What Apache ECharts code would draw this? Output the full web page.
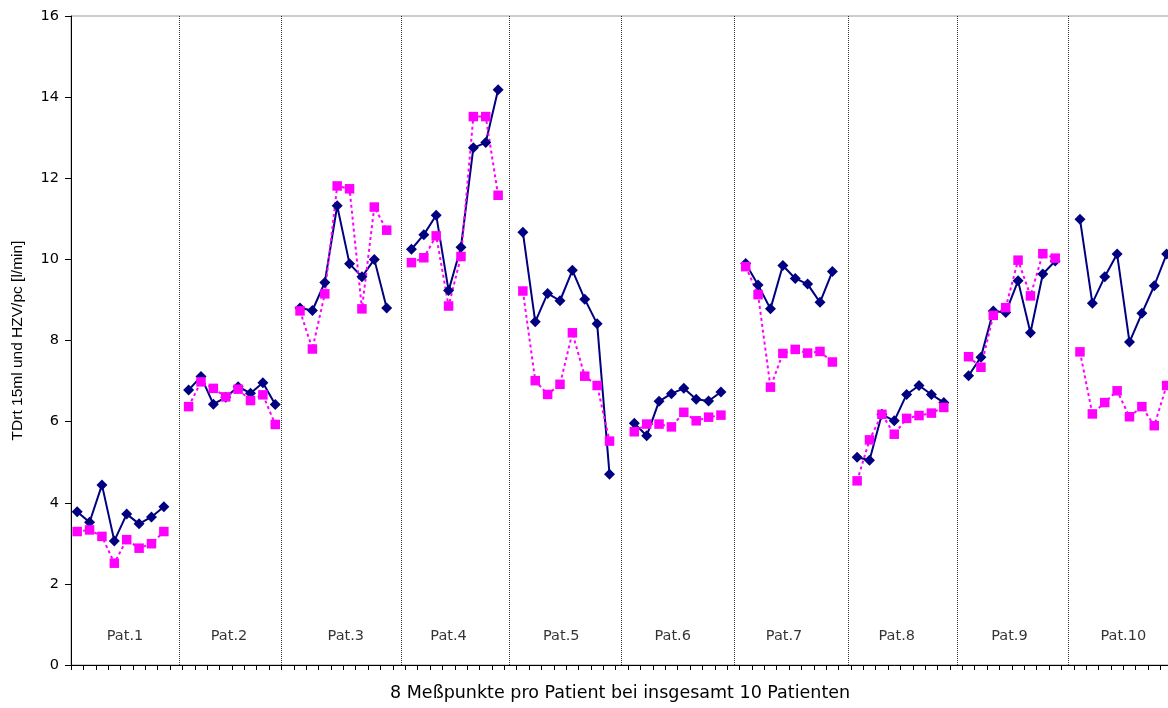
<!DOCTYPE html>
<html><head><meta charset="utf-8">
<script src="https://cdn.jsdelivr.net/npm/echarts@6/dist/echarts.min.js"></script>
<style>html,body{margin:0;padding:0;background:#fff}#c{width:1168px;height:708px}</style>
</head><body><div id="c"></div>
<script>
// ---- data ----
const patients = ['Pat.1','Pat.2','Pat.3','Pat.4','Pat.5','Pat.6','Pat.7','Pat.8','Pat.9','Pat.10'];
const measurePoints = ['1','2','3','4','5','6','7','8'];
// TDrt 15ml (navy, solid)
const tdrt = [
  [3.78, 3.52, 4.44, 3.06, 3.72, 3.48, 3.65, 3.90],
  [6.78, 7.11, 6.43, 6.60, 6.86, 6.70, 6.96, 6.42],
  [8.80, 8.74, 9.43, 11.32, 9.89, 9.57, 10.00, 8.80],
  [10.25, 10.61, 11.09, 9.23, 10.30, 12.75, 12.88, 14.18],
  [10.67, 8.46, 9.16, 8.98, 9.73, 9.02, 8.41, 4.70],
  [5.96, 5.65, 6.50, 6.69, 6.82, 6.55, 6.51, 6.73],
  [9.90, 9.37, 8.78, 9.85, 9.53, 9.39, 8.94, 9.70],
  [5.12, 5.05, 6.18, 6.02, 6.67, 6.89, 6.67, 6.47],
  [7.13, 7.59, 8.73, 8.69, 9.47, 8.19, 9.64, 9.96],
  [10.99, 8.92, 9.57, 10.13, 7.96, 8.67, 9.35, 10.13]
];
// HZVpc (magenta, dotted)
const hzv = [
  [3.29, 3.33, 3.17, 2.51, 3.09, 2.88, 2.99, 3.29],
  [6.37, 6.98, 6.82, 6.61, 6.80, 6.52, 6.66, 5.93],
  [8.73, 7.79, 9.15, 11.81, 11.74, 8.78, 11.29, 10.72],
  [9.92, 10.04, 10.58, 8.85, 10.07, 13.52, 13.52, 11.58],
  [9.22, 7.01, 6.67, 6.92, 8.19, 7.12, 6.89, 5.52],
  [5.75, 5.94, 5.94, 5.87, 6.23, 6.02, 6.11, 6.16],
  [9.82, 9.13, 6.85, 7.68, 7.78, 7.69, 7.73, 7.47],
  [4.54, 5.55, 6.18, 5.69, 6.08, 6.15, 6.21, 6.35],
  [7.60, 7.34, 8.62, 8.81, 9.98, 9.10, 10.14, 10.03],
  [7.72, 6.19, 6.47, 6.76, 6.12, 6.37, 5.90, 6.89]
];
const yTicks = { min: 0, max: 16, interval: 2 };
const xName = '8 Meßpunkte pro Patient bei insgesamt 10 Patienten';
const yName = 'TDrt 15ml und HZV/pc [l/min]';

// ---- layout (positions in category-slot units) ----
const separatorPos = [8.72, 16.96, 26.66, 35.38, 44.43, 53.55, 62.76, 71.57, 80.53];
const labelPos = [4.36, 12.76, 22.2, 30.5, 39.6, 48.6, 57.6, 66.7, 75.8, 85.0];
const labelY = 0.72;

// ---- build ----
const categories = [];
const tdrtFlat = [];
const hzvFlat = [];
patients.forEach((p, i) => {
  measurePoints.forEach((m, j) => {
    categories.push(p + ' ' + m);
    tdrtFlat.push(tdrt[i][j]);
    hzvFlat.push(hzv[i][j]);
  });
  categories.push(p + ' -');
  tdrtFlat.push(null);
  hzvFlat.push(null);
});
const nSlots = categories.length;
const slotW = 12.38;

const font = 'Liberation Sans, Arial, sans-serif';
const wideFont = 'DejaVu Sans, Liberation Sans, sans-serif';
const chart = echarts.init(document.getElementById('c'), null, { renderer: 'canvas' });
chart.setOption({
  animation: false,
  backgroundColor: '#fff',
  grid: {
    left: 71, top: 16, width: nSlots * slotW, height: 649,
    outerBoundsMode: 'none', containLabel: false,
    show: true, borderColor: '#9a9a9a', borderWidth: 1, backgroundColor: 'transparent'
  },
  xAxis: [{
    type: 'category', data: categories, boundaryGap: true,
    axisLine: { show: true, lineStyle: { color: '#000', width: 1 } },
    axisTick: { show: true, interval: 0, length: 5, lineStyle: { color: '#000' } },
    axisLabel: { show: false },
    splitLine: { show: false },
    name: xName, nameLocation: 'middle', nameGap: 19,
    nameTextStyle: { fontFamily: wideFont, fontSize: 17.5, color: '#000', padding: [0, 16, 0, 0] }
  }, {
    type: 'value', min: 0, max: nSlots, show: false
  }],
  yAxis: {
    type: 'value', min: yTicks.min, max: yTicks.max, interval: yTicks.interval,
    axisLine: { show: true, lineStyle: { color: '#000', width: 1 } },
    axisTick: { show: true, length: 6, lineStyle: { color: '#000' } },
    axisLabel: { fontFamily: wideFont, fontSize: 14.5, color: '#000', margin: 12 },
    splitLine: { show: false },
    name: yName, nameLocation: 'middle', nameGap: 45, nameRotate: 90,
    nameTextStyle: { fontFamily: font, fontSize: 15.5, color: '#000' }
  },
  series: [
    {
      name: 'separators', type: 'line', xAxisIndex: 1, data: [], silent: true,
      markLine: {
        symbol: 'none', silent: true, label: { show: false },
        lineStyle: { color: '#333', width: 1, type: [1, 1] },
        data: separatorPos.map(v => ({ xAxis: v }))
      }
    },
    {
      name: 'labels', type: 'scatter', xAxisIndex: 1, symbolSize: 0, silent: true,
      data: patients.map((p, i) => ({ value: [labelPos[i], labelY], name: p })),
      label: { show: true, position: 'inside', formatter: d => d.name, fontFamily: wideFont, fontSize: 14.5, color: '#000' }
    },
    {
      name: 'TDrt 15ml', type: 'line', data: tdrtFlat, connectNulls: false,
      symbol: 'diamond', symbolSize: 11, showAllSymbol: true,
      itemStyle: { color: '#000080' },
      lineStyle: { color: '#000080', width: 2 }
    },
    {
      name: 'HZVpc', type: 'line', data: hzvFlat, connectNulls: false,
      symbol: 'rect', symbolSize: 9.5, showAllSymbol: true,
      itemStyle: { color: '#FF00FF' },
      lineStyle: { color: '#FF00FF', width: 2, type: [3, 3] }
    }
  ]
});
</script>
</body></html>
